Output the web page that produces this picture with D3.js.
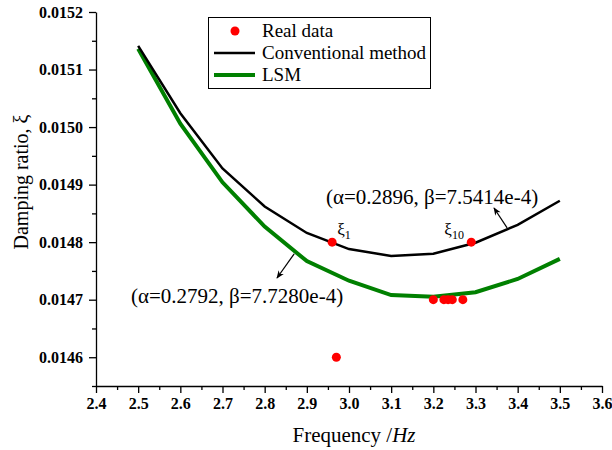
<!DOCTYPE html>
<html>
<head>
<meta charset="utf-8">
<script src="https://cdn.jsdelivr.net/npm/d3@7"></script>
<style>
  body { margin: 0; background: #fff; }
  svg text { font-family: "Liberation Serif", Tinos, "Times New Roman", Times, "DejaVu Serif", serif; }
  .axis path, .axis line { stroke: #000; stroke-width: 1.3; }
  .axis text { font-size: 16px; font-weight: bold; fill: #000; font-family: "Liberation Serif", Tinos, "Times New Roman", Times, "DejaVu Serif", serif; }
</style>
</head>
<body>
<svg id="chart" width="612" height="450"></svg>
<script>
// frequencies of the two fitted curves
const freqs = [2.5, 2.6, 2.7, 2.8, 2.9, 3.0, 3.1, 3.2, 3.3, 3.4, 3.5];
const conventional = [0.015141, 0.015024, 0.014928, 0.014862, 0.014816, 0.014788, 0.014776, 0.014780, 0.014799, 0.014830, 0.014872];
const lsm = [0.015136, 0.015006, 0.014904, 0.014827, 0.014767, 0.014733, 0.014708, 0.014705, 0.014713, 0.014736, 0.014771];

// measured points
const realFreq = [2.96, 2.97, 3.29, 3.20, 3.225, 3.235, 3.245, 3.27];
const realDamp = [0.01480, 0.01460, 0.01480, 0.01470, 0.01470, 0.01470, 0.01470, 0.01470];

const xTicks = [2.4, 2.5, 2.6, 2.7, 2.8, 2.9, 3.0, 3.1, 3.2, 3.3, 3.4, 3.5, 3.6];
const yTicks = [0.0146, 0.0147, 0.0148, 0.0149, 0.0150, 0.0151, 0.0152];

const svg = d3.select("#chart");
const x = d3.scaleLinear().domain([2.4, 3.6]).range([96, 602]);
const y = d3.scaleLinear().domain([0.01455, 0.0152]).range([386, 12]);

// minor ticks
const xMinor = d3.range(0, 12).map((i) => 2.45 + i * 0.1);
const yMinor = d3.range(0, 7).map((i) => 0.01455 + i * 0.0001);

svg.append("g")
  .attr("class", "axis")
  .attr("transform", "translate(0,386)")
  .call(d3.axisBottom(x).tickValues(xMinor).tickSize(4).tickFormat(""))
  .call((g) => g.select(".domain").remove());
svg.append("g")
  .attr("class", "axis")
  .attr("transform", "translate(0,386)")
  .call(d3.axisBottom(x).tickValues(xTicks).tickSizeInner(7).tickSizeOuter(0).tickPadding(5).tickFormat(d3.format(".1f")));

svg.append("g")
  .attr("class", "axis")
  .attr("transform", "translate(96,0)")
  .call(d3.axisLeft(y).tickValues(yMinor).tickSize(4).tickFormat(""))
  .call((g) => g.select(".domain").remove());
svg.append("g")
  .attr("class", "axis")
  .attr("transform", "translate(96,0)")
  .call(d3.axisLeft(y).tickValues(yTicks).tickSizeInner(7).tickSizeOuter(0).tickPadding(6).tickFormat(d3.format(".4f")));

// axis titles
svg.append("text")
  .attr("x", 354).attr("y", 442)
  .attr("text-anchor", "middle")
  .style("font-size", "21px")
  .html('Frequency /<tspan font-style="italic">Hz</tspan>');

svg.append("text")
  .attr("transform", "translate(28,182) rotate(-90)")
  .attr("text-anchor", "middle")
  .style("font-size", "20px")
  .text("Damping ratio, ξ");

// curves
const line = d3.line()
  .x((d) => x(d[0]))
  .y((d) => y(d[1]));

svg.append("path")
  .datum(freqs.map((f, i) => [f, lsm[i]]))
  .attr("d", line)
  .attr("fill", "none")
  .attr("stroke", "#008000")
  .attr("stroke-width", 4);

svg.append("path")
  .datum(freqs.map((f, i) => [f, conventional[i]]))
  .attr("d", line)
  .attr("fill", "none")
  .attr("stroke", "#000")
  .attr("stroke-width", 2.5);

svg.selectAll(".pt")
  .data(realFreq.map((f, i) => [f, realDamp[i]]))
  .enter()
  .append("circle")
  .attr("cx", (d) => x(d[0]))
  .attr("cy", (d) => y(d[1]))
  .attr("r", 4.5)
  .attr("fill", "#ff0000");

// point labels
const xiLabel = (px, py, sub) => {
  svg.append("text")
    .attr("x", px).attr("y", py)
    .style("font-size", "17px")
    .html(`ξ<tspan font-size="12px" dy="4">${sub}</tspan>`);
};
xiLabel(x(2.96) + 5, y(0.01480) - 7, "1");
xiLabel(x(3.29) - 27, y(0.01480) - 7, "10");

// annotations
svg.append("defs").append("marker")
  .attr("id", "arrow")
  .attr("viewBox", "0 0 10 10")
  .attr("refX", 9).attr("refY", 5)
  .attr("markerWidth", 10).attr("markerHeight", 8)
  .attr("markerUnits", "userSpaceOnUse")
  .attr("orient", "auto")
  .append("path")
  .attr("d", "M0,1 L10,5 L0,9 L3,5 Z")
  .attr("fill", "#000");

svg.append("text")
  .attr("x", 326).attr("y", 204)
  .style("font-size", "21px")
  .text("(α=0.2896, β=7.5414e-4)");
svg.append("line")
  .attr("x1", x(3.375)).attr("y1", y(0.014823) - 1)
  .attr("x2", 494).attr("y2", 208)
  .attr("stroke", "#000").attr("stroke-width", 1.2)
  .attr("marker-end", "url(#arrow)");

svg.append("text")
  .attr("x", 131).attr("y", 303)
  .style("font-size", "21px")
  .text("(α=0.2792, β=7.7280e-4)");
svg.append("line")
  .attr("x1", x(2.87)).attr("y1", y(0.014785) + 3)
  .attr("x2", 277).attr("y2", 278)
  .attr("stroke", "#000").attr("stroke-width", 1.2)
  .attr("marker-end", "url(#arrow)");

// legend
const legend = svg.append("g");
legend.append("rect")
  .attr("x", 208.5).attr("y", 17.5)
  .attr("width", 222).attr("height", 71)
  .attr("fill", "#fff").attr("stroke", "#000").attr("stroke-width", 1);
legend.append("circle").attr("cx", 235).attr("cy", 31).attr("r", 4.5).attr("fill", "#ff0000");
legend.append("line").attr("x1", 214).attr("x2", 255).attr("y1", 53).attr("y2", 53)
  .attr("stroke", "#000").attr("stroke-width", 2.5);
legend.append("line").attr("x1", 214).attr("x2", 255).attr("y1", 75).attr("y2", 75)
  .attr("stroke", "#008000").attr("stroke-width", 4);
const legendNames = ["Real data", "Conventional method", "LSM"];
legend.selectAll(".lt")
  .data(legendNames)
  .enter()
  .append("text")
  .attr("x", 262)
  .attr("y", (d, i) => 37 + i * 22)
  .style("font-size", "19px")
  .text((d) => d);
</script>
</body>
</html>
